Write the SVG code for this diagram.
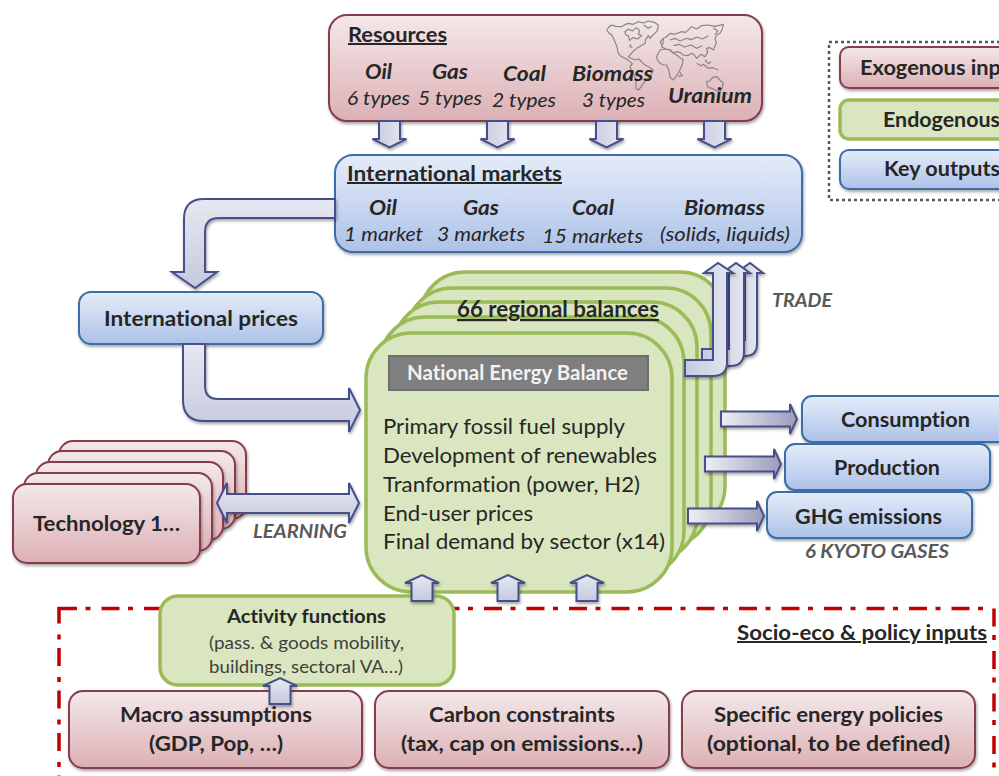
<svg xmlns="http://www.w3.org/2000/svg" width="999" height="776" viewBox="0 0 999 776">
<style>
text{font-family:"Lato","Liberation Sans",sans-serif;fill:#262626;font-variant-ligatures:none}
.b{font-weight:700;font-size:20px}
.bi{font-weight:700;font-style:italic;font-size:20px}
.i{font-style:italic;font-size:18.5px}
.u{text-decoration:underline}
.g{font-weight:700;font-style:italic;font-size:18px;fill:#595959}
.r{font-size:20.5px}
.s{font-size:16.5px;fill:#404040}
.red{fill:url(#gr);stroke:#843c4b;stroke-width:2;filter:url(#sh)}
.blue{fill:url(#gb);stroke:#3a6ea8;stroke-width:2;filter:url(#sh)}
.green{fill:#dae6bf;stroke:#9bbb59;stroke-width:3.5}
.arr{fill:url(#ga);stroke:#46508a;stroke-width:2;stroke-linejoin:miter;filter:url(#sh)}
.arh{fill:url(#gh);stroke:#46508a;stroke-width:2;filter:url(#sh)}
.arb{fill:url(#gv);stroke:#46508a;stroke-width:2;filter:url(#sh)}
</style>
<defs>
<linearGradient id="gr" x1="0" y1="0" x2="0" y2="1"><stop offset="0" stop-color="#f4e8e9"/><stop offset="1" stop-color="#dcb0b5"/></linearGradient>
<linearGradient id="gb" x1="0" y1="0" x2="0" y2="1"><stop offset="0" stop-color="#e5ecf9"/><stop offset="1" stop-color="#adc2e8"/></linearGradient>
<linearGradient id="ga" x1="0" y1="0" x2="0" y2="1"><stop offset="0" stop-color="#e6e8f1"/><stop offset="1" stop-color="#c5c9de"/></linearGradient>
<linearGradient id="gv" x1="0" y1="0" x2="1" y2="0"><stop offset="0" stop-color="#c5c9de"/><stop offset="1" stop-color="#e6e8f1"/></linearGradient>
<linearGradient id="gh" x1="0" y1="0" x2="1" y2="0"><stop offset="0" stop-color="#eeeff5"/><stop offset="1" stop-color="#9a9cbc"/></linearGradient>
<filter id="sh" x="-10%" y="-10%" width="125%" height="130%"><feDropShadow dx="1" dy="2" stdDeviation="1.6" flood-color="#000" flood-opacity=".35"/></filter>
<path id="dn" d="M-10 0H11V18H17.500L0.500 26.500L-16.500 18H-10Z"/>
<path id="up" d="M-10.500 26V8H-17L0 0L17 8H10.500V26Z"/>
<path id="ar" d="M0 -7.500H69V-15L76 0L69 15V7.500H0Z"/>
</defs>

<g id="legend">
<rect x="829" y="42" width="190" height="158" fill="none" stroke="#595959" stroke-width="2.500" stroke-dasharray="3 3"/>
<rect class="red" x="840" y="47" width="190" height="41" rx="9"/>
<text class="b" x="860" y="75" textLength="141" lengthAdjust="spacingAndGlyphs">Exogenous inp</text>
<rect class="green" x="840" y="100" width="190" height="39" rx="9"/>
<text class="b" x="883" y="127" textLength="117" lengthAdjust="spacingAndGlyphs">Endogenous</text>
<rect class="blue" x="840" y="150" width="190" height="39" rx="9"/>
<text class="b" x="884" y="176" textLength="116" lengthAdjust="spacingAndGlyphs">Key outputs</text>
</g>

<g id="socio-box">
<rect x="59" y="608.500" width="935" height="220" fill="none" stroke="#c00000" stroke-width="3.500" stroke-dasharray="18 8.500 5 11"/>
<text class="b u" x="737" y="640" textLength="250" lengthAdjust="spacingAndGlyphs">Socio-eco &amp; policy inputs</text>
</g>

<g id="balance-stack">
<rect class="green" x="420" y="272" width="305" height="259" rx="45"/>
<rect class="green" x="407" y="288" width="304" height="259" rx="45"/>
<rect class="green" x="394" y="302" width="303" height="259" rx="45"/>
<rect class="green" x="380" y="317" width="304" height="259" rx="45"/>
<text class="b u" x="457" y="317" textLength="202" lengthAdjust="spacingAndGlyphs" style="font-size:22px">66 regional balances</text>
<rect class="green" x="366" y="333" width="306" height="259" rx="45"/>
</g>
<g id="national-balance">
<rect x="389" y="356" width="259" height="34" fill="#7f7f7f" stroke="#6e6e6e" stroke-width="2"/>
<text class="b" x="407" y="380" textLength="221" lengthAdjust="spacingAndGlyphs" style="fill:#f2f2f2">National Energy Balance</text>
<text class="r" x="383" y="434" textLength="242" lengthAdjust="spacingAndGlyphs">Primary fossil fuel supply</text>
<text class="r" x="383" y="463" textLength="274" lengthAdjust="spacingAndGlyphs">Development of renewables</text>
<text class="r" x="383" y="492" textLength="257" lengthAdjust="spacingAndGlyphs">Tranformation (power, H2)</text>
<text class="r" x="383" y="520.500" textLength="150" lengthAdjust="spacingAndGlyphs">End-user prices</text>
<text class="r" x="383" y="549" textLength="282" lengthAdjust="spacingAndGlyphs">Final demand by sector (x14)</text>
</g>

<g id="resources">
<rect class="red" x="329" y="15" width="433" height="106" rx="18"/>
<g transform="translate(595 15) scale(.3333)" fill="none" stroke="#858585" stroke-width="3.500" stroke-linejoin="round">
<path d="M35 45L42 36L50 30L62 34L80 35L92 28L100 25L115 28L130 20L145 24L160 18L178 22L190 30L188 42L185 50L174 60L165 70L160 62L152 74L150 85L138 92L125 100L114 110L105 120L100 125L108 130L120 135L132 132L145 146L150 150L162 156L175 165L170 176L165 185L152 195L145 205L138 216L130 225L124 222L122 215L124 198L118 180L108 164L105 155L112 146L100 136L90 130L78 124L70 115L66 96L60 80L52 64L50 60L42 54Z"/>
<path d="M90 50L100 42L112 48L124 38L134 46L130 58L140 62L128 72L114 68L104 76L100 62L92 60ZM108 88L104 94L112 98M146 30L160 40L170 34"/>
<path d="M205 70L214 66L225 55L240 58L260 50L272 52L290 35L305 42L320 32L340 30L360 34L385 28L382 42L375 55L366 60L360 70L364 84L355 105L345 98L335 100L338 112L330 125L318 118L305 130L298 120L290 115L278 122L265 120L255 112L245 110L235 114L225 105L212 102L200 95L204 84Z"/>
<path d="M195 105L210 102L225 105L235 114L245 120L255 128L265 135L262 148L255 165L246 180L235 195L228 190L225 185L222 168L215 150L205 150L195 145L188 136L185 125L190 114Z"/>
<path d="M335 200L345 198L352 188L365 185L372 192L385 205L382 218L375 230L362 226L350 220L338 216Z"/>
<path d="M305 145L318 152L325 148L340 160L354 158L370 165M330 135L340 146L348 140M255 172L262 182L250 184M392 232L398 238"/>
<path d="M225 75L240 70L255 78L275 70L290 74L305 66L322 72L340 62M235 92L252 88L268 96L288 90L305 100L322 92M205 70L196 80L200 90M355 38L368 48L360 60"/>
</g>
<text class="b u" x="348" y="42" textLength="99" lengthAdjust="spacingAndGlyphs">Resources</text>
<text class="bi" x="365" y="79" textLength="27" lengthAdjust="spacingAndGlyphs">Oil</text>
<text class="bi" x="432" y="79" textLength="36" lengthAdjust="spacingAndGlyphs">Gas</text>
<text class="bi" x="503" y="81" textLength="43" lengthAdjust="spacingAndGlyphs">Coal</text>
<text class="bi" x="572" y="81" textLength="81" lengthAdjust="spacingAndGlyphs">Biomass</text>
<text class="bi" x="668" y="103" textLength="84" lengthAdjust="spacingAndGlyphs">Uranium</text>
<text class="i" x="347" y="105" textLength="63" lengthAdjust="spacingAndGlyphs">6 types</text>
<text class="i" x="418" y="105" textLength="64" lengthAdjust="spacingAndGlyphs">5 types</text>
<text class="i" x="492" y="107" textLength="64" lengthAdjust="spacingAndGlyphs">2 types</text>
<text class="i" x="582" y="107" textLength="63" lengthAdjust="spacingAndGlyphs">3 types</text>
</g>

<g id="international-markets">
<rect class="blue" x="335" y="155" width="467" height="97" rx="18"/>
<text class="b u" x="347" y="181" textLength="215" lengthAdjust="spacingAndGlyphs">International markets</text>
<text class="bi" x="369" y="215" textLength="28" lengthAdjust="spacingAndGlyphs">Oil</text>
<text class="bi" x="463" y="215" textLength="36" lengthAdjust="spacingAndGlyphs">Gas</text>
<text class="bi" x="572" y="215" textLength="42" lengthAdjust="spacingAndGlyphs">Coal</text>
<text class="bi" x="684" y="215" textLength="81" lengthAdjust="spacingAndGlyphs">Biomass</text>
<text class="i" x="344" y="241" textLength="79" lengthAdjust="spacingAndGlyphs">1 market</text>
<text class="i" x="437" y="241" textLength="88" lengthAdjust="spacingAndGlyphs">3 markets</text>
<text class="i" x="542" y="243" textLength="101" lengthAdjust="spacingAndGlyphs">15 markets</text>
<text class="i" x="660" y="241" textLength="130" lengthAdjust="spacingAndGlyphs">(solids, liquids)</text>
</g>

<g id="international-prices">
<rect class="blue" x="79" y="292" width="244" height="52" rx="12"/>
<text class="b" x="104" y="326" textLength="194" lengthAdjust="spacingAndGlyphs">International prices</text>
</g>

<g id="technology-stack">
<rect class="red" x="59" y="441" width="187" height="78" rx="14"/>
<rect class="red" x="48" y="451" width="187" height="78" rx="14"/>
<rect class="red" x="36" y="462" width="187" height="78" rx="14"/>
<rect class="red" x="24" y="473" width="188" height="78" rx="14"/>
<rect class="red" x="13" y="484" width="187" height="79" rx="14"/>
<text class="b" x="33" y="531" textLength="147" lengthAdjust="spacingAndGlyphs">Technology 1…</text>
</g>

<g id="connectors">
<use href="#dn" class="arb" x="389" y="121"/>
<use href="#dn" class="arb" x="497" y="121"/>
<use href="#dn" class="arb" x="606" y="121"/>
<use href="#dn" class="arb" x="714" y="121"/>
<path class="arr" d="M335 199H204Q184 199 184 219V272H172L195 288L217 272H205V232Q205 218 219 218H335Z"/>
<path class="arr" d="M183 344V400Q183 421 204 421H349V432L360 410L349 388V399H218Q205 399 205 386V344Z"/>
<path class="arr" d="M217 503L227 483V494H349V483L359 503L349 523V513H227V523Z"/>
<path class="arb" d="M717 356V340H745V273H736L750 263L763 273H757V344Q757 356 745 356Z"/>
<path class="arb" d="M702 366V349H729V273H722L736 263L750 273H744V352Q744 366 730 366Z"/>
<path class="arb" d="M685 376V360H713V273H704L718 263L733 273H727V362Q727 376 713 376Z"/>
<use href="#ar" class="arh" x="721" y="419"/>
<use href="#ar" class="arh" x="705" y="464"/>
<use href="#ar" class="arh" x="688" y="516"/>
<use href="#up" class="arr" x="508" y="575"/>
<use href="#up" class="arr" x="587" y="575"/>
</g>

<g id="labels">
<text class="g" x="772" y="307" textLength="60" lengthAdjust="spacingAndGlyphs">TRADE</text>
<text class="g" x="253" y="538" textLength="94" lengthAdjust="spacingAndGlyphs">LEARNING</text>
<text class="g" x="805" y="558" textLength="144" lengthAdjust="spacingAndGlyphs">6 KYOTO GASES</text>
</g>

<g id="consumption">
<rect class="blue" x="802" y="396" width="220" height="46" rx="10"/>
<text class="b" x="841" y="427" textLength="129" lengthAdjust="spacingAndGlyphs">Consumption</text>
</g>
<g id="production">
<rect class="blue" x="785" y="444" width="205" height="46" rx="10"/>
<text class="b" x="834" y="475" textLength="106" lengthAdjust="spacingAndGlyphs">Production</text>
</g>
<g id="ghg-emissions">
<rect class="blue" x="767" y="492" width="205" height="46" rx="10"/>
<text class="b" x="795" y="524" textLength="147" lengthAdjust="spacingAndGlyphs">GHG emissions</text>
</g>

<g id="activity-functions">
<rect class="green" x="160" y="596" width="294" height="89" rx="18"/>
<text class="b" x="227" y="623" textLength="159" lengthAdjust="spacingAndGlyphs" style="font-size:18px">Activity functions</text>
<text class="s" x="209" y="649" textLength="195" lengthAdjust="spacingAndGlyphs">(pass. &amp; goods mobility,</text>
<text class="s" x="209" y="673" textLength="194" lengthAdjust="spacingAndGlyphs">buildings, sectoral VA…)</text>
</g>
<g id="macro">
<rect class="red" x="69" y="691" width="293" height="77" rx="14"/>
<text class="b" x="120" y="722" textLength="192" lengthAdjust="spacingAndGlyphs">Macro assumptions</text>
<text class="b" x="149" y="751" textLength="134" lengthAdjust="spacingAndGlyphs">(GDP, Pop, …)</text>
</g>
<g id="carbon">
<rect class="red" x="375" y="691" width="294" height="77" rx="14"/>
<text class="b" x="429" y="722" textLength="186" lengthAdjust="spacingAndGlyphs">Carbon constraints</text>
<text class="b" x="401" y="751" textLength="242" lengthAdjust="spacingAndGlyphs">(tax, cap on emissions…)</text>
</g>
<g id="policies">
<rect class="red" x="682" y="691" width="293" height="77" rx="14"/>
<text class="b" x="714" y="722" textLength="229" lengthAdjust="spacingAndGlyphs">Specific energy policies</text>
<text class="b" x="707" y="751" textLength="243" lengthAdjust="spacingAndGlyphs">(optional, to be defined)</text>
</g>
<g id="activity-links">
<use href="#up" class="arr" x="422" y="575"/>
<use href="#up" class="arr" x="280" y="678"/>
</g>
</svg>
